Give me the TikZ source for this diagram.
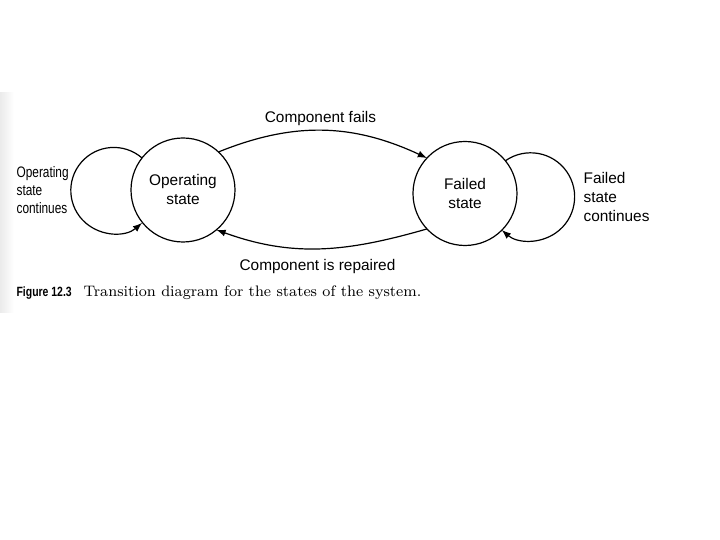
\documentclass[tikz,border=0pt]{standalone}
\usepackage{fontspec}
\setsansfont{Liberation Sans}
\newfontfamily\narrowsf[FakeStretch=0.78]{Liberation Sans}
\usepackage{tikz}

\begin{document}
\begin{tikzpicture}[x=0.5pt, y=0.5pt, line width=0.6pt,
    statenode/.style={circle, draw, minimum size=52pt, inner sep=0pt, outer sep=0pt,
        align=center, font=\sffamily\fontsize{7.7}{9.5}\selectfont},
    lbl/.style={inner sep=0pt, font=\sffamily\fontsize{7.7}{9.5}\selectfont},
    narrowlbl/.style={inner sep=0pt, align=left, font=\narrowsf\fontsize{7.6}{9}\selectfont}]
                \useasboundingbox (0,0) rectangle (720,540);
                \shade[left color=black!8, right color=white] (0,227) rectangle (14,447);
                % the two states
                \node[statenode] (op) at (183,350) {Operating\\state};
                \node[statenode] (fl) at (465,346.5) {Failed\\state};
                % transitions
                \draw[-latex] (op.47) to[out=22, in=155] (fl.137);
                \draw[-latex] (fl.223) to[out=196, in=-20] (op.310);
                \draw[-latex] (op.142) arc[start angle=49, end angle=311, radius=21.5pt];
                \draw[-latex] (fl.39) arc[start angle=125, end angle=-131, radius=22pt];
                % labels
                \node[lbl, anchor=base] (fails) at (320.5,417.5) {Component fails};
                \node[lbl, anchor=base] (repaired) at (317.5,269.5) {Component is repaired};
                \node[narrowlbl, anchor=west] (opcont) at (16,350) {Operating\\state\\continues};
                \node[lbl, align=left, anchor=west] (flcont) at (583,343) {Failed\\state\\continues};
                % caption
                \node[anchor=base west, inner sep=0pt, font=\narrowsf\bfseries\fontsize{6.7}{9}\selectfont] (fignum) at (16,243) {Figure 12.3};
                \node[anchor=base west, inner sep=0pt, font=\rmfamily\fontsize{7.6}{10}\selectfont] (caption) at (83,243) {Transition diagram for the states of the system.};
            \end{tikzpicture}
\end{document}
